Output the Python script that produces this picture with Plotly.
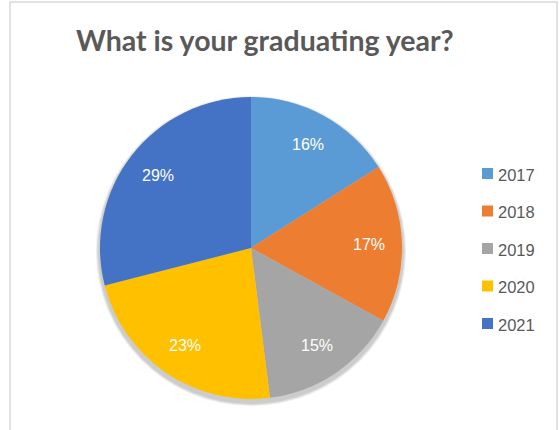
import math
import plotly.graph_objects as go

years = ["2017", "2018", "2019", "2020", "2021"]
shares = [16, 17, 15, 23, 29]
colors = ["#5B9BD5", "#ED7D31", "#A5A5A5", "#FFC000", "#4472C4"]
title_text = "What is your graduating year?"

W, H = 559, 430
CX, CY, R = 251, 248, 151  # pie centre / radius in pixels
fig = go.Figure()

# soft shadow under the pie
for k in (4, 3, 2):
    fig.add_trace(go.Pie(
        labels=["shadow"], values=[1], sort=False, textinfo="none", hoverinfo="skip",
        marker=dict(colors=["rgba(0,0,0,0.07)"], line=dict(width=0)),
        domain=dict(x=[(CX - R - k) / W, (CX + R + k) / W],
                    y=[(H - CY - 3 - R - k) / H, (H - CY - 3 + R + k) / H]),
        showlegend=False,
    ))

fig.add_trace(go.Pie(
    labels=years, values=shares, sort=False, direction="clockwise", rotation=0,
    marker=dict(colors=colors, line=dict(width=0)),
    textinfo="none",
    domain=dict(x=[(CX - R) / W, (CX + R) / W], y=[(H - CY - R) / H, (H - CY + R) / H]),
    showlegend=False, hoverinfo="label+percent",
))

shapes = [dict(type="rect", xref="paper", yref="paper",
               x0=10 / W, x1=557 / W, y0=-0.05, y1=(H - 2) / H,
               line=dict(color="#D9D9D9", width=1.5), fillcolor="rgba(0,0,0,0)")]
annotations = [dict(text=title_text, x=265 / W, y=(H - 40) / H, xref="paper", yref="paper",
                    showarrow=False, xanchor="center", yanchor="middle",
                    font=dict(family="Lato, Open Sans", size=28.5, color="#595959", weight="bold"))]

# data labels at ~0.78 R along each slice's mid-angle
total = sum(shares)
cum = 0
for v in shares:
    mid = (cum + v / 2) / total * 2 * math.pi
    cum += v
    px = CX + 0.78 * R * math.sin(mid)
    py = CY - 0.78 * R * math.cos(mid)
    annotations.append(dict(text=f"{v}%", x=px / W, y=(H - py) / H, xref="paper", yref="paper",
                            showarrow=False, xanchor="center", yanchor="middle",
                            font=dict(family="Liberation Sans, Arial", size=16, color="white")))

for i, (yr, c) in enumerate(zip(years, colors)):
    yc = 173.5 + i * 37.5
    shapes.append(dict(type="rect", xref="paper", yref="paper",
                       x0=482 / W, x1=493 / W, y0=(H - yc - 5.5) / H, y1=(H - yc + 5.5) / H,
                       line=dict(width=0), fillcolor=c))
    annotations.append(dict(text=yr, x=496 / W, y=(H - yc - 1) / H, xref="paper", yref="paper",
                            showarrow=False, xanchor="left", yanchor="middle",
                            font=dict(family="Liberation Sans, Arial", size=16.5, color="#595959")))

fig.update_layout(width=W, height=H, margin=dict(l=0, r=0, t=0, b=0),
                  paper_bgcolor="white", plot_bgcolor="white",
                  shapes=shapes, annotations=annotations)
fig.write_html("out.html", config={"displayModeBar": False},
               post_script="document.body.style.margin='0';document.body.style.overflow='hidden';")
